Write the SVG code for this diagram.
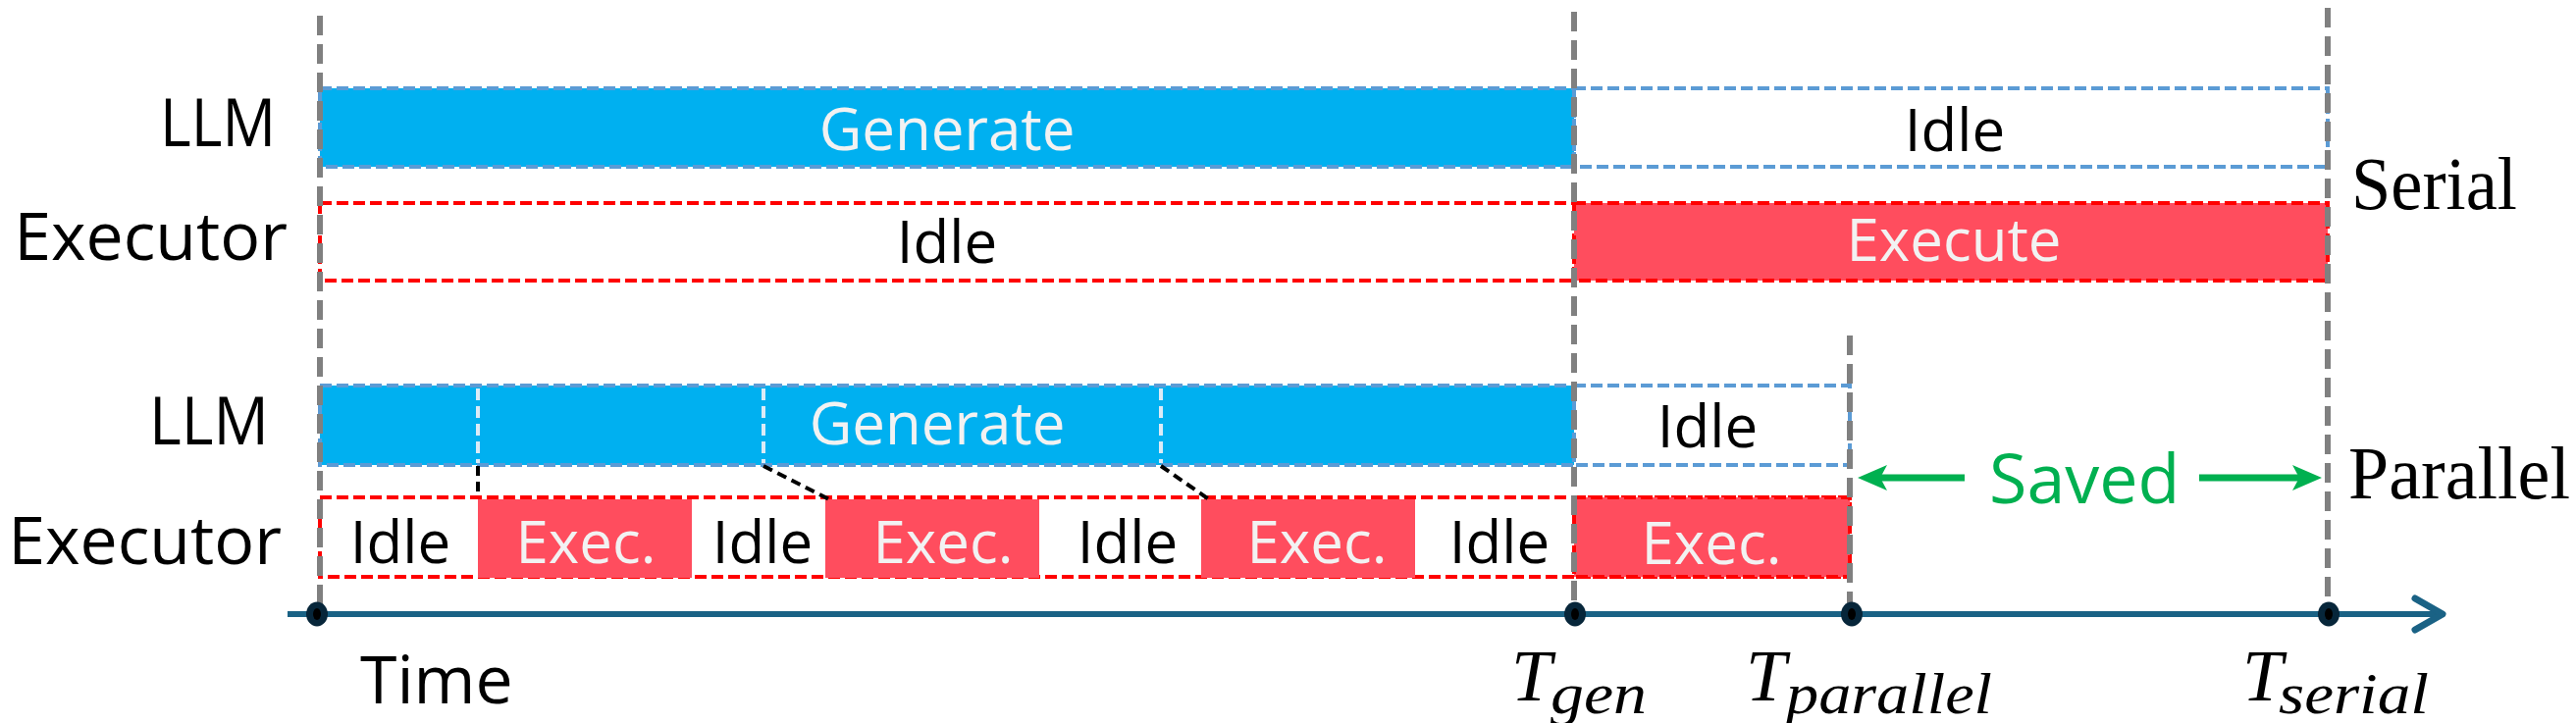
<svg xmlns="http://www.w3.org/2000/svg" width="2625" height="737" viewBox="0 0 2625 737">
<style>
.lbl{font-family:"Open Sans","Liberation Sans",sans-serif;font-size:68px;fill:#000}
.bt{font-family:"Open Sans","Liberation Sans",sans-serif;font-size:60px;text-anchor:middle}
.w{fill:#F2F2F2}
.k{fill:#000}
.ser{font-family:"Liberation Serif",serif;font-size:77px;fill:#000}
.math{font-family:"Liberation Serif",serif;font-style:italic;fill:#000}
.blue{fill:#00B0F0;stroke:#5B9BD5;stroke-width:4;stroke-dasharray:12 5}
.blueo{fill:none;stroke:#5B9BD5;stroke-width:4;stroke-dasharray:12 5}
.red{fill:#FF4D5E;stroke:#FF0000;stroke-width:4;stroke-dasharray:12 5}
.redo{fill:none;stroke:#FF0000;stroke-width:4;stroke-dasharray:12 5}
.redf{fill:#FF4D5E}
.div{stroke:#DCEBF7;stroke-width:4;stroke-dasharray:12 6}
.grey{stroke:#808080;stroke-width:6;stroke-dasharray:20 9}
.conn{stroke:#000;stroke-width:4;stroke-dasharray:10 6;fill:none}
.green{stroke:#00B050;stroke-width:7;fill:none}
</style>
<defs>
<marker id="gh" viewBox="0 0 30 26" markerWidth="30" markerHeight="26" refX="20" refY="13" orient="auto" markerUnits="userSpaceOnUse">
<path d="M0,0 L30,13 L0,26 L7,13 z" fill="#00B050"/>
</marker>
</defs>

<g id="serial-llm">
<rect id="serial-generate" class="blue" x="326" y="90" width="1278" height="80"/>
<text class="bt w" x="965" y="153">Generate</text>
<rect id="serial-llm-idle" class="blueo" x="1604" y="90" width="768" height="80" fill="none"/>
<text class="bt k" x="1992" y="154">Idle</text>
</g>

<g id="serial-executor">
<rect id="serial-exec-idle" class="redo" x="326" y="207" width="1278" height="79"/>
<text class="bt k" x="965" y="268">Idle</text>
<rect id="serial-execute" class="red" x="1604" y="207" width="768" height="79"/>
<text class="bt w" x="1991" y="266">Execute</text>
</g>

<g id="parallel-llm">
<rect id="parallel-generate" class="blue" x="326" y="393" width="1278" height="81"/>
<line class="div" x1="487" y1="396" x2="487" y2="472"/>
<line class="div" x1="778" y1="396" x2="778" y2="472"/>
<line class="div" x1="1183" y1="396" x2="1183" y2="472"/>
<text class="bt w" x="955" y="453">Generate</text>
<rect id="parallel-llm-idle" class="blueo" x="1604" y="393" width="281" height="81"/>
<text class="bt k" x="1740" y="456">Idle</text>
</g>

<g id="parallel-executor">
<rect class="redo" x="326" y="507" width="1559" height="81"/>
<rect class="redf" x="487" y="509" width="218" height="80"/>
<rect class="redf" x="841" y="509" width="218" height="80"/>
<rect class="redf" x="1224" y="509" width="218" height="80"/>
<rect class="red" x="1604" y="507" width="281" height="81"/>
<text class="bt k" x="408" y="574">Idle</text>
<text class="bt w" x="597" y="574">Exec.</text>
<text class="bt k" x="777" y="574">Idle</text>
<text class="bt w" x="961" y="574">Exec.</text>
<text class="bt k" x="1149" y="574">Idle</text>
<text class="bt w" x="1342" y="574">Exec.</text>
<text class="bt k" x="1528" y="574">Idle</text>
<text class="bt w" x="1744" y="575">Exec.</text>
</g>

<g id="connectors">
<line class="conn" x1="487" y1="475" x2="487" y2="507"/>
<line class="conn" x1="778" y1="475" x2="845" y2="509"/>
<line class="conn" x1="1183" y1="475" x2="1232" y2="509"/>
</g>

<g id="time-markers">
<line class="grey" x1="326" y1="16" x2="326" y2="620"/>
<line class="grey" x1="1604" y1="12" x2="1604" y2="620"/>
<line class="grey" x1="1885" y1="342" x2="1885" y2="620"/>
<line class="grey" x1="2372" y1="8" x2="2372" y2="620"/>
</g>

<g id="axis">
<line x1="293" y1="626" x2="2486" y2="626" stroke="#1A6285" stroke-width="6"/>
<polyline points="2461,610 2489,626 2461,642" fill="none" stroke="#1A6285" stroke-width="7" stroke-linecap="round" stroke-linejoin="round"/>
<g fill="#07263A">
<ellipse cx="323" cy="626" rx="11" ry="12.5"/>
<ellipse cx="1605" cy="626" rx="11" ry="12.5"/>
<ellipse cx="1887" cy="626" rx="11" ry="12.5"/>
<ellipse cx="2373" cy="626" rx="11" ry="12.5"/>
</g>
<g fill="#000">
<ellipse cx="323" cy="626" rx="4" ry="6"/>
<ellipse cx="1605" cy="626" rx="4" ry="6"/>
<ellipse cx="1887" cy="626" rx="4" ry="6"/>
<ellipse cx="2373" cy="626" rx="4" ry="6"/>
</g>
</g>

<g id="row-labels">
<text class="lbl" x="163" y="149" textLength="118" lengthAdjust="spacingAndGlyphs">LLM</text>
<text class="lbl" x="293" y="265" text-anchor="end">Executor</text>
<text class="lbl" x="152" y="453" textLength="122" lengthAdjust="spacingAndGlyphs">LLM</text>
<text class="lbl" x="287" y="575" text-anchor="end">Executor</text>
<text class="lbl" x="367" y="717">Time</text>
<text class="ser" x="2396" y="213" textLength="169" lengthAdjust="spacingAndGlyphs">Serial</text>
<text class="ser" x="2393" y="508" textLength="226" lengthAdjust="spacingAndGlyphs">Parallel</text>
</g>

<g id="saved">
<line class="green" x1="2002" y1="487" x2="1903" y2="487" marker-end="url(#gh)"/>
<line class="green" x1="2241" y1="487" x2="2356" y2="487" marker-end="url(#gh)"/>
<text x="2027" y="513" font-family="Open Sans, Liberation Sans, sans-serif" font-size="70" fill="#00B050">Saved</text>
</g>

<g id="time-labels">
<text class="math" x="1540" y="714" font-size="74">T</text>
<text class="math" x="1580" y="727" font-size="60" textLength="98" lengthAdjust="spacingAndGlyphs">gen</text>
<text class="math" x="1779" y="714" font-size="74">T</text>
<text class="math" x="1820" y="727" font-size="60" textLength="210" lengthAdjust="spacingAndGlyphs">parallel</text>
<text class="math" x="2285" y="714" font-size="74">T</text>
<text class="math" x="2322" y="727" font-size="60" textLength="153" lengthAdjust="spacingAndGlyphs">serial</text>
</g>
</svg>
